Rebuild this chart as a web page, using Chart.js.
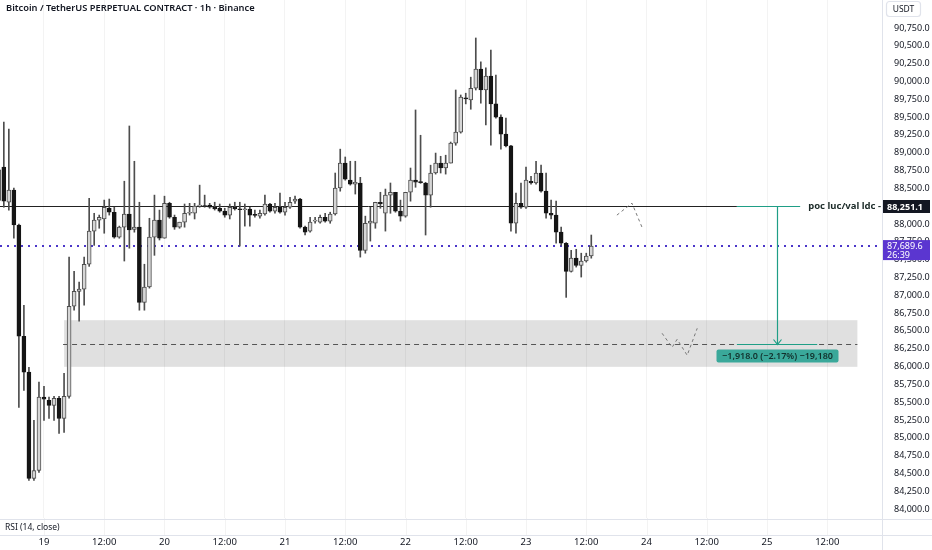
<!DOCTYPE html>
<html>
<head>
<meta charset="utf-8">
<script src="https://cdn.jsdelivr.net/npm/chart.js@4.4.1/dist/chart.umd.min.js"></script>
<style>
  html, body { margin: 0; padding: 0; background: #fff; }
  #wrap { width: 932px; height: 550px; }
</style>
</head>
<body>
<div id="wrap"><canvas id="btcChart" width="932" height="550"></canvas></div>
<script>
// 1h candles, x = hours from 19 00:00, first candle is 18th 15:00
const firstHour = -9;
const opens = [88330,88800,88305,88475,87985,86425,85920,84430,84540,85570,85525,85455,85555,85270,85580,86845,87055,87085,87435,87900,
  88055,88070,88220,88165,87815,87955,88140,87925,87955,86900,87115,87815,88055,87800,88290,88095,87955,88025,88150,88150,
  88250,88250,88265,88235,88220,88180,88125,88235,88210,88200,88210,88125,88110,88140,88280,88180,88235,88165,88235,88320,
  88350,87955,87900,88040,88025,88095,88040,88140,88505,88855,88615,88560,88575,87630,88010,88010,88305,88150,88405,88445,
  88180,88110,88445,88615,88585,88575,88405,88715,88855,88785,88855,89135,89290,89765,89740,89905,90175,89880,90075,89685,
  89500,89260,89095,88010,88290,88235,88600,88575,88715,88460,88150,88125,87885,87730,87335,87520,87420,87480,87550];
const highs = [89280,89430,89330,88505,88000,86860,85990,85245,85780,85720,85570,85580,85580,85905,87535,87335,87185,87535,88360,88150,
  88125,88335,88350,88235,87970,88600,89375,88880,88305,87435,88080,88405,88195,88390,88305,88125,88025,88280,88290,88290,
  88545,88405,88290,88305,88280,88220,88280,88305,88305,88280,88235,88195,88195,88405,88290,88290,88435,88305,88375,88390,
  88360,87970,88095,88095,88125,88150,88165,88715,89050,88940,88880,88880,88655,88110,88235,88305,88445,88490,88575,88445,
  88335,88445,88785,89600,89245,88585,88825,88995,88950,88965,89150,89880,89810,89835,90060,90610,90275,90190,90440,90090,
  89530,89485,89105,88435,88575,88800,88670,88880,88825,88715,88335,88320,87955,87740,87630,87645,87590,87590,87845];
const lows = [87210,88235,88195,87800,85425,85665,84400,84400,84515,85245,85270,85245,85060,85075,85555,86790,86635,86860,87405,87700,
  87940,87870,88125,87800,87800,87480,87660,87885,86790,86790,87100,87560,87775,87800,88080,87925,87940,87955,88125,88070,
  88235,88235,88220,88195,88165,88095,88070,88195,87690,87970,87970,88095,88080,88125,88165,88150,88150,88125,88220,88290,
  87940,87845,87885,88010,88010,88025,88010,88125,88460,88615,88545,88420,87535,87590,87760,87940,88220,87900,88150,88165,
  88040,88095,88320,88515,88570,87845,88235,88700,88715,88700,88855,89105,89275,89685,89610,89880,89695,89390,89105,89485,
  89050,89080,87900,87870,88220,88220,88560,88560,88445,88080,88070,87730,87700,86970,87325,87395,87255,87465,87520];
const closes = [88760,88320,88475,87985,86425,85920,84430,84540,85570,85540,85455,85555,85270,85580,86845,87055,87085,87435,87900,88055,
  88095,88235,88165,87815,87955,88140,87915,87955,86900,87115,87815,88055,87800,88290,88095,87955,88025,88150,88165,88250,
  88255,88245,88235,88210,88180,88125,88235,88210,88200,88210,88125,88120,88150,88280,88180,88235,88165,88235,88305,88350,
  87955,87885,88025,88045,88095,88040,88140,88505,88855,88630,88560,88585,87630,88010,88040,88305,88280,88405,88445,88180,
  88110,88445,88615,88585,88580,88405,88715,88855,88785,88855,89135,89290,89780,89755,89905,90175,89880,90075,89685,89500,
  89260,89095,88010,88290,88235,88615,88575,88715,88460,88150,88125,87885,87730,87335,87520,87420,87480,87550,87690];

// axis ticks
const priceTicks = [84000,84250,84500,84750,85000,85250,85500,85750,86000,86250,86500,86750,87000,87250,87500,87750,
  88000,88250,88500,88750,89000,89250,89500,89750,90000,90250,90500,90750];
const timeTickHours = [0,12,24,36,48,60,72,84,96,108,120,132,144,156];
const timeTickLabels = ['19','12:00','20','12:00','21','12:00','22','12:00','23','12:00','24','12:00','25','12:00'];

// drawings on the chart (hours, price)
const pocLevel = 88251.1;
const lastPrice = 87689.6;
const zoneTop = 86650, zoneBottom = 85995, zoneMid = 86322;
const zoneStartHour = 4, zoneLineStartHour = 3.8, zoneEndHour = 162;
const measureHour = 146, measureStartHour = 138, measureTopEndHour = 150.6, measureBottomEndHour = 154;
const pathAHours = [114.1, 117.1, 119.1];
const pathAPrices = [88124, 88292, 87955];
const pathBHours = [123.1, 125.1, 126.1, 128.1, 130.1];
const pathBPrices = [86466, 86269, 86382, 86157, 86536];

const wickData = opens.map((o, i) => ({ x: firstHour + i, y: [lows[i], highs[i]] }));
const bodyData = opens.map((o, i) => ({ x: firstHour + i, y: [Math.min(o, closes[i]), Math.max(o, closes[i])] }));
const isUp = opens.map((o, i) => closes[i] >= o);

const fmt = v => v.toLocaleString('en-US', { minimumFractionDigits: 1, maximumFractionDigits: 1 });
const FONT = '"Noto Sans", sans-serif';

const overlays = {
  id: 'overlays',
  beforeDatasetsDraw(chart) {
    const { ctx, chartArea: a, scales: { x, y } } = chart;
    ctx.save();
    // grey zone
    ctx.fillStyle = 'rgba(0,0,0,0.12)';
    const zl = x.getPixelForValue(zoneStartHour), zr = x.getPixelForValue(zoneEndHour);
    ctx.fillRect(zl, y.getPixelForValue(zoneTop), zr - zl, y.getPixelForValue(zoneBottom) - y.getPixelForValue(zoneTop));
    ctx.strokeStyle = '#555';
    ctx.lineWidth = 1;
    ctx.setLineDash([5, 4]);
    ctx.beginPath();
    const my = Math.round(y.getPixelForValue(zoneMid)) + 0.5;
    ctx.moveTo(x.getPixelForValue(zoneLineStartHour), my);
    ctx.lineTo(zr, my);
    ctx.stroke();
    // last price dotted line
    ctx.strokeStyle = '#4b36c9';
    ctx.lineWidth = 2;
    ctx.setLineDash([2, 5]);
    const ly = Math.round(y.getPixelForValue(lastPrice));
    ctx.beginPath();
    ctx.moveTo(a.left, ly);
    ctx.lineTo(a.right, ly);
    ctx.stroke();
    // poc horizontal line
    ctx.setLineDash([]);
    ctx.strokeStyle = '#222';
    ctx.lineWidth = 1;
    const py = Math.round(y.getPixelForValue(pocLevel)) + 0.5;
    ctx.beginPath();
    ctx.moveTo(a.left, py);
    ctx.lineTo(x.getPixelForValue(measureStartHour), py);
    ctx.stroke();
    ctx.restore();
  },
  afterDraw(chart) {
    const { ctx, chartArea: a, scales: { x, y } } = chart;
    ctx.save();
    // grid continues through rsi pane
    ctx.strokeStyle = '#f3f3f3';
    ctx.lineWidth = 1;
    timeTickHours.forEach(h => {
      const gx = Math.round(x.getPixelForValue(h)) + 0.5;
      ctx.beginPath(); ctx.moveTo(gx, a.bottom); ctx.lineTo(gx, 535); ctx.stroke();
    });
    // pane separators
    ctx.strokeStyle = '#e0e3eb';
    ctx.beginPath();
    ctx.moveTo(0, 519.5); ctx.lineTo(932, 519.5);
    ctx.moveTo(0, 535.5); ctx.lineTo(932, 535.5);
    ctx.moveTo(a.right + 0.5, 0); ctx.lineTo(a.right + 0.5, 550);
    ctx.stroke();

    // measure tool
    const green = '#1f9e86';
    const py = Math.round(y.getPixelForValue(pocLevel)) + 0.5;
    const my = Math.round(y.getPixelForValue(zoneMid)) + 0.5;
    const mx = Math.round(x.getPixelForValue(measureHour)) + 0.5;
    ctx.strokeStyle = green;
    ctx.lineWidth = 1.2;
    ctx.beginPath();
    ctx.moveTo(x.getPixelForValue(measureStartHour), py); ctx.lineTo(x.getPixelForValue(measureTopEndHour), py);
    ctx.moveTo(x.getPixelForValue(measureStartHour), my); ctx.lineTo(x.getPixelForValue(measureBottomEndHour), my);
    ctx.moveTo(mx, py); ctx.lineTo(mx, my);
    ctx.moveTo(mx - 4, my - 5); ctx.lineTo(mx, my); ctx.lineTo(mx + 4, my - 5);
    ctx.stroke();
    // measure label
    ctx.fillStyle = '#3aa89a';
    const bw = 122, bh = 13, by = my + 5;
    ctx.beginPath();
    ctx.roundRect(mx - bw / 2, by, bw, bh, 2);
    ctx.fill();
    ctx.fillStyle = '#12302c';
    ctx.font = '600 9px ' + FONT;
    ctx.textAlign = 'center';
    ctx.textBaseline = 'middle';
    ctx.fillText('\u22121,918.0 (\u22122.17%) \u221219,180', mx, by + bh / 2 + 0.5);

    // poc text
    ctx.fillStyle = '#1c2b29';
    ctx.font = 'bold 9.5px ' + FONT;
    ctx.textAlign = 'right';
    ctx.fillText('poc luc/val ldc -', a.right - 1, py);

    // price labels on axis
    ctx.textAlign = 'left';
    ctx.fillStyle = '#131722';
    ctx.fillRect(a.right + 1, py - 6.5, 47, 13);
    ctx.fillStyle = '#fff';
    ctx.font = 'bold 9px ' + FONT;
    ctx.fillText(fmt(pocLevel), a.right + 5, py + 0.5);
    const ly = y.getPixelForValue(lastPrice);
    ctx.fillStyle = '#5b36d0';
    ctx.fillRect(a.right + 1, ly - 6, 47, 20);
    ctx.fillStyle = '#fff';
    ctx.font = '9px ' + FONT;
    ctx.fillText(fmt(lastPrice), a.right + 5, ly + 0.5);
    ctx.fillText('26:39', a.right + 5, ly + 9.5);

    // USDT
    ctx.strokeStyle = '#e0e3eb';
    ctx.beginPath();
    ctx.roundRect(a.right + 4.5, 1.5, 34, 15, 3);
    ctx.stroke();
    ctx.fillStyle = '#131722';
    ctx.font = '8.5px ' + FONT;
    ctx.textAlign = 'center';
    ctx.fillText('USDT', a.right + 21.5, 9.5);

    // title and rsi caption
    ctx.textAlign = 'left';
    ctx.font = '600 9.3px ' + FONT;
    ctx.fillText('Bitcoin / TetherUS PERPETUAL CONTRACT \u00b7 1h \u00b7 Binance', 6, 8.5);
    ctx.font = '8.5px ' + FONT;
    ctx.fillText('RSI (14, close)', 5, 527.5);
    ctx.restore();
  }
};

const ctx = document.getElementById('btcChart').getContext('2d');
new Chart(ctx, {
  type: 'bar',
  data: {
    datasets: [
      {
        label: 'body',
        data: bodyData,
        backgroundColor: isUp.map(u => u ? '#d6d6d6' : '#151515'),
        borderColor: isUp.map(u => u ? '#4d4d4d' : '#151515'),
        borderWidth: 1,
        borderSkipped: false,
        barThickness: 4,
        minBarLength: 1,
        grouped: false,
        order: 1
      },
      {
        label: 'wick',
        data: wickData,
        backgroundColor: '#4d4d4d',
        barThickness: 1,
        grouped: false,
        order: 2
      },
      {
        type: 'line',
        label: 'path a',
        data: pathAHours.map((h, i) => ({ x: h, y: pathAPrices[i] })),
        borderColor: '#777',
        borderWidth: 1,
        borderDash: [3, 3],
        pointRadius: 0,
        order: 0
      },
      {
        type: 'line',
        label: 'path b',
        data: pathBHours.map((h, i) => ({ x: h, y: pathBPrices[i] })),
        borderColor: '#777',
        borderWidth: 1,
        borderDash: [3, 3],
        pointRadius: 0,
        order: 0
      }
    ]
  },
  options: {
    responsive: false,
    animation: false,
    layout: { padding: 0 },
    plugins: { legend: { display: false }, tooltip: { enabled: false } },
    scales: {
      x: {
        type: 'linear',
        offset: false,
        min: -8.76,
        max: 166.9,
        grid: { color: '#f3f3f3', offset: false, drawTicks: false },
        border: { display: false },
        afterBuildTicks: s => { s.ticks = timeTickHours.map(v => ({ value: v })); },
        afterFit: s => { s.height = 32; s.paddingLeft = 0; s.paddingRight = 0; },
        ticks: {
          padding: 19,
          maxRotation: 0,
          autoSkip: false,
          color: '#131722',
          font: { family: FONT, size: 9.5 },
          callback: v => timeTickLabels[timeTickHours.indexOf(v)]
        }
      },
      y: {
        position: 'right',
        min: 83874,
        max: 91143,
        grid: { display: false },
        border: { display: false },
        afterBuildTicks: s => { s.ticks = priceTicks.map(v => ({ value: v })); },
        afterFit: s => { s.width = 50; s.paddingTop = 0; s.paddingBottom = 0; },
        ticks: {
          padding: 4,
          color: '#131722',
          font: { family: FONT, size: 9 },
          callback: v => fmt(v)
        }
      }
    }
  },
  plugins: [overlays]
});
</script>
</body>
</html>
